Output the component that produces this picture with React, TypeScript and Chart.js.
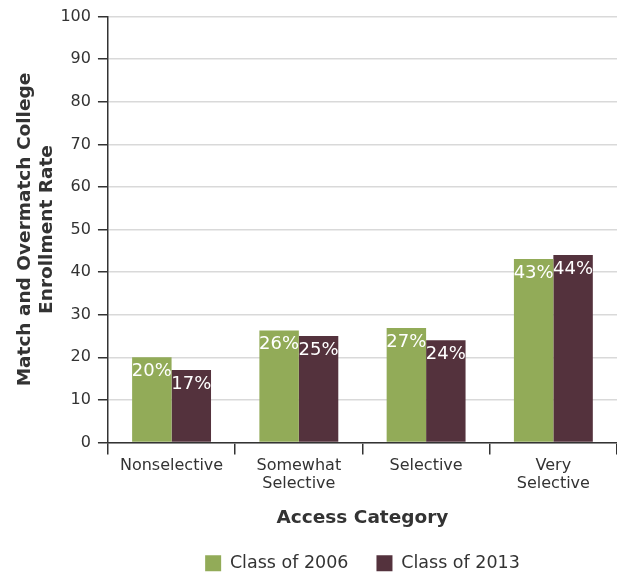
import React, { useEffect, useRef } from "react";
import { Chart, registerables } from "chart.js";

Chart.register(...registerables);

const categories: (string | string[])[] = [
  "Nonselective",
  ["Somewhat", "Selective"],
  "Selective",
  ["Very", "Selective"],
];
const class2006 = [20, 26.3, 26.9, 43.1];
const class2013 = [17, 25, 24, 44];
const labels2006 = ["20%", "26%", "27%", "43%"];
const labels2013 = ["17%", "25%", "24%", "44%"];
const seriesNames = ["Class of 2006", "Class of 2013"];
const yTicks = [0, 10, 20, 30, 40, 50, 60, 70, 80, 90, 100];

const GREEN = "#92ab58";
const MAROON = "#54323d";
const TEXT = "#333333";
const FONT = "'DejaVu Sans', sans-serif";

const barLabelPlugin = {
  id: "barLabels",
  afterDatasetsDraw(chart: any) {
    const ctx = chart.ctx;
    const all = [labels2006, labels2013];
    chart.data.datasets.forEach((_ds: any, di: number) => {
      const meta = chart.getDatasetMeta(di);
      meta.data.forEach((bar: any, i: number) => {
        ctx.save();
        ctx.fillStyle = "#ffffff";
        ctx.font = `18px ${FONT}`;
        ctx.textAlign = "center";
        ctx.textBaseline = "top";
        ctx.fillText(all[di][i], bar.x, bar.y + 5);
        ctx.restore();
      });
    });
  },
};

const legendCenterPlugin = {
  id: "legendCenter",
  afterLayout(chart: any) {
    const lg = chart.legend;
    if (lg && chart.chartArea) {
      lg.left = chart.chartArea.left;
      lg.right = chart.chartArea.right;
    }
  },
};

export default function App() {
  const ref = useRef<HTMLCanvasElement | null>(null);
  useEffect(() => {
    document.body.style.margin = "0";
    if (!ref.current) return;
    const chart = new Chart(ref.current, {
      type: "bar",
      data: {
        labels: categories,
        datasets: [
          {
            label: seriesNames[0],
            data: class2006,
            backgroundColor: GREEN,
            categoryPercentage: 0.62,
            barPercentage: 1,
          },
          {
            label: seriesNames[1],
            data: class2013,
            backgroundColor: MAROON,
            categoryPercentage: 0.62,
            barPercentage: 1,
          },
        ],
      },
      options: {
        animation: false,
        responsive: false,
        maintainAspectRatio: false,
        layout: { padding: { top: 9, right: 0, left: 14, bottom: -9 } },
        plugins: {
          tooltip: { enabled: false },
          legend: {
            position: "bottom",
            labels: {
              color: TEXT,
              font: { family: FONT, size: 17.5 },
              boxWidth: 16,
              boxHeight: 16,
              padding: 28,
            },
          },
        },
        scales: {
          x: {
            grid: {
              display: true,
              offset: true,
              drawOnChartArea: false,
              drawTicks: true,
              tickLength: 12,
              color: "#333",
              lineWidth: 1.5,
            },
            border: { display: true, color: "#333", width: 1.5 },
            ticks: {
              color: TEXT,
              font: { family: FONT, size: 16, lineHeight: 1.15 },
              padding: 2,
              maxRotation: 0,
            },
            title: {
              display: true,
              text: "Access Category",
              color: TEXT,
              font: { family: FONT, size: 18.5, weight: "bold" },
              padding: { top: 12, bottom: -3 },
            },
          },
          y: {
            min: 0,
            max: 100,
            afterBuildTicks: (axis: any) => {
              axis.ticks = yTicks.map((v) => ({ value: v }));
            },
            grid: {
              color: "#d9d9d9",
              lineWidth: 1.5,
              drawTicks: true,
              tickLength: 10,
              tickColor: "#333",
            },
            border: { display: true, color: "#333", width: 1.5 },
            ticks: {
              color: TEXT,
              font: { family: FONT, size: 16 },
              padding: 7,
            },
            title: {
              display: true,
              text: ["Match and Overmatch College", "Enrollment Rate"],
              color: TEXT,
              font: { family: FONT, size: 18.5, weight: "bold", lineHeight: 1.2 },
              padding: { top: 0, bottom: -5 },
            },
          },
        },
      },
      plugins: [barLabelPlugin, legendCenterPlugin],
    });
    return () => chart.destroy();
  }, []);
  return (
    <div style={{ width: 617, height: 573 }}>
      <canvas ref={ref} width={617} height={573} style={{ display: "block" }} />
    </div>
  );
}
